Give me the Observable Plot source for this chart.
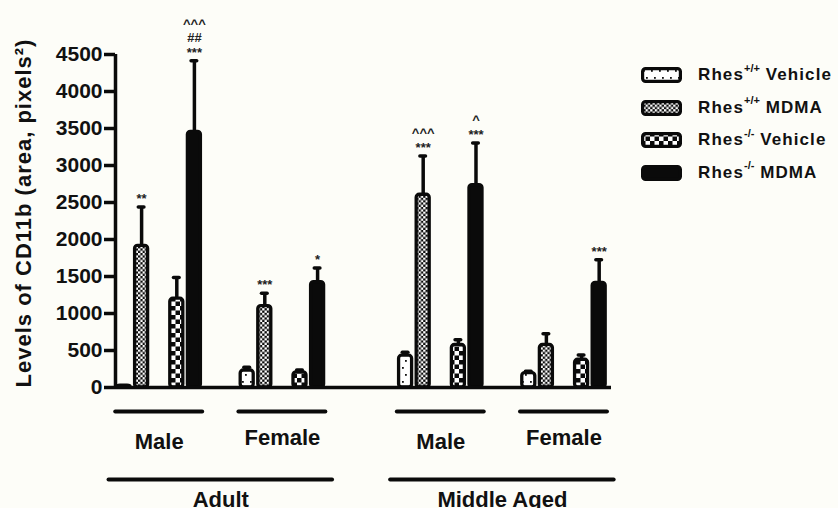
<!DOCTYPE html>
<html>
<head>
<meta charset="utf-8">
<script src="https://cdn.jsdelivr.net/npm/d3@7"></script>
<script src="https://cdn.jsdelivr.net/npm/@observablehq/plot@0.6"></script>
<style>
  html, body { margin: 0; padding: 0; background: #fdfdf8; }
  #wrap { position: relative; width: 838px; height: 508px; overflow: hidden; font-family: "Liberation Sans", Arial, sans-serif; }
  #legend { position: absolute; left: 641px; top: 59px; }
  .row { display: flex; align-items: center; height: 32.5px; }
  .row svg { margin-right: 16px; flex: none; }
  .row span { font-weight: bold; font-size: 17px; letter-spacing: 1.1px; color: #111; white-space: nowrap; }
  .row sup { font-size: 11px; letter-spacing: 0; position: relative; top: -2px; line-height: 0; }
  .ylab text { letter-spacing: 1px; }
</style>
</head>
<body>
<svg width="0" height="0" style="position:absolute">
  <defs>
    <pattern id="pVehWT" patternUnits="userSpaceOnUse" width="8" height="14">
      <rect width="8" height="14" fill="#ffffff"/>
      <rect x="2" y="3" width="1.8" height="1.8" fill="#111"/>
      <rect x="5" y="10" width="1.8" height="1.8" fill="#111"/>
    </pattern>
    <pattern id="pMdmaWT" patternUnits="userSpaceOnUse" width="4.6" height="4.6">
      <rect width="4.6" height="4.6" fill="#0a0a0a"/>
      <rect width="2.3" height="2.3" fill="#ffffff"/>
      <rect x="2.3" y="2.3" width="2.3" height="2.3" fill="#ffffff"/>
    </pattern>
    <pattern id="pVehKO" patternUnits="userSpaceOnUse" width="9" height="9">
      <rect width="9" height="9" fill="#ffffff"/>
      <rect width="4.5" height="4.5" fill="#0a0a0a"/>
      <rect x="4.5" y="4.5" width="4.5" height="4.5" fill="#0a0a0a"/>
    </pattern>
  </defs>
</svg>
<div id="wrap">
  <div id="chart"></div>
  <div id="legend"></div>
</div>
<script>
// ---- data ----
const ages = ["Adult", "Middle Aged"];
const sexes = ["Male", "Female", "Male", "Female"];           // subgroup order
const subgroupAge = [0, 0, 1, 1];
const series = ["Rhes+/+ Vehicle", "Rhes+/+ MDMA", "Rhes-/- Vehicle", "Rhes-/- MDMA"];
const legendHtml = ["Rhes<sup>+/+</sup> Vehicle", "Rhes<sup>+/+</sup> MDMA", "Rhes<sup>-/-</sup> Vehicle", "Rhes<sup>-/-</sup> MDMA"];

// means per series, in subgroup order: Adult M, Adult F, Middle Aged M, Middle Aged F
const meanVehWT  = [25, 230, 430, 195];
const meanMdmaWT = [1915, 1100, 2605, 575];
const meanVehKO  = [1200, 205, 575, 375];
const meanMdmaKO = [3455, 1425, 2735, 1415];
// upper SEM
const semVehWT   = [0, 45, 45, 25];
const semMdmaWT  = [525, 175, 525, 150];
const semVehKO   = [285, 30, 70, 65];
const semMdmaKO  = [960, 190, 570, 310];
// significance marks
const noteMdmaWT = ["**", "***", "^^^\n***", ""];
const noteMdmaKO = ["^^^\n##\n***", "*", "^\n***", "***"];

const yTicks = [0, 500, 1000, 1500, 2000, 2500, 3000, 3500, 4000, 4500];
const yLabel = "Levels of CD11b (area, pixels²)";

// ---- layout ----
const groupStart = [0, 7, 16, 23];
const seriesOffset = [0, 1, 3, 4];
const xDomain = [-0.483, 27.70];
const fills = ["url(#pVehWT)", "url(#pMdmaWT)", "url(#pVehKO)", "#0a0a0a"];
const ink = "#0a0a0a";

const meansBy = [meanVehWT, meanMdmaWT, meanVehKO, meanMdmaKO];
const semBy = [semVehWT, semMdmaWT, semVehKO, semMdmaKO];
const notesBy = [["", "", "", ""], noteMdmaWT, ["", "", "", ""], noteMdmaKO];

const rows = [];
sexes.forEach((sex, g) => {
  series.forEach((s, k) => {
    rows.push({g, k, sex, series: s, x: groupStart[g] + seriesOffset[k],
      mean: meansBy[k][g], sem: semBy[k][g], note: notesBy[k][g]});
  });
});
const subgroups = sexes.map((sex, g) => ({sex, lo: groupStart[g], hi: groupStart[g] + seriesOffset[3], age: subgroupAge[g]}));
const ageGroups = ages.map((age, a) => {
  const sg = subgroups.filter(d => d.age === a);
  return {age, lo: sg[0].lo, hi: sg[sg.length - 1].hi};
});

const hw = 0.37;
const withErr = rows.filter(d => d.sem > 0);

const marks = [
  // error bars (upper only)
  Plot.ruleX(withErr, {x: "x", y1: "mean", y2: d => d.mean + d.sem, stroke: ink, strokeWidth: 3.5}),
  Plot.ruleY(withErr, {y: d => d.mean + d.sem, x1: d => d.x - 0.16, x2: d => d.x + 0.16, stroke: ink, strokeWidth: 3.5, strokeLinecap: "round"}),
  // bars, one mark per series with its fill
  ...series.map((s, k) => Plot.rect(rows.filter(d => d.k === k), {
    x1: d => d.x - hw, x2: d => d.x + hw, y1: 0, y2: "mean",
    fill: fills[k], stroke: ink, strokeWidth: 3.3, rx: 3
  })),
  // axes lines
  Plot.ruleY([0], {stroke: ink, strokeWidth: 3.5}),
  Plot.ruleX([xDomain[0]], {y1: yTicks[0], y2: yTicks[yTicks.length - 1], stroke: ink, strokeWidth: 3.5}),
  Plot.axisY(yTicks, {tickSize: 11, tickPadding: 2, strokeWidth: 3.5, stroke: ink, fontSize: 21, fontWeight: "bold", fill: "#111", label: null, tickFormat: d => String(d)}),
  // significance annotations
  Plot.text(rows.filter(d => d.note), {x: "x", y: d => d.mean + d.sem, text: "note", lineAnchor: "bottom", dy: -4, fontSize: 13, fontWeight: "bold", lineHeight: 1.12, fill: "#222"}),
  // subgroup brackets
  Plot.ruleY(subgroups, {y: () => 0, x1: d => d.lo - 0.47, x2: d => d.hi + 0.47, dy: 24, stroke: ink, strokeWidth: 4, strokeLinecap: "round"}),
  Plot.text(subgroups.filter(d => d.sex === "Male"), {x: d => (d.lo + d.hi) / 2, y: () => 0, text: "sex", dy: 54, fontSize: 22, fontWeight: "bold", fill: "#111"}),
  Plot.text(subgroups.filter(d => d.sex === "Female"), {x: d => (d.lo + d.hi) / 2, y: () => 0, text: "sex", dy: 50, fontSize: 22, fontWeight: "bold", fill: "#111"}),
  // age brackets
  Plot.ruleY(ageGroups, {y: () => 0, x1: d => d.lo - 0.85, x2: d => d.hi + 0.85, dy: 92, stroke: ink, strokeWidth: 4, strokeLinecap: "round"}),
  Plot.text(ageGroups, {x: d => (d.lo + d.hi) / 2, y: () => 0, text: "age", dy: 112, fontSize: 22, fontWeight: "bold", fill: "#111"}),
  // y label
  Plot.text([yLabel], {text: d => d, frameAnchor: "left", textAnchor: "middle", rotate: -90, dx: -92, dy: -8, fontSize: 22, fontWeight: "bold", fill: "#111", className: "ylab"})
];

const chart = Plot.plot({
  width: 838,
  height: 508,
  marginLeft: 115,
  marginRight: 227,
  marginTop: 54,
  marginBottom: 121,
  style: {background: "#fdfdf8", fontFamily: "'Liberation Sans', Arial, sans-serif", color: "#111", overflow: "visible"},
  x: {type: "linear", domain: xDomain, axis: null},
  y: {domain: [0, 4500], axis: null},
  marks
});
document.getElementById("chart").appendChild(chart);

// legend
const legend = d3.select("#legend");
series.forEach((s, k) => {
  const row = legend.append("div").attr("class", "row");
  const sw = row.append("svg").attr("width", 41).attr("height", 16);
  sw.append("rect").attr("x", 1.6).attr("y", 1.6).attr("width", 37.8).attr("height", 12.8)
    .attr("rx", 3).attr("fill", fills[k]).attr("stroke", ink).attr("stroke-width", 3.2);
  row.append("span").html(legendHtml[k]);
});
</script>
</body>
</html>
